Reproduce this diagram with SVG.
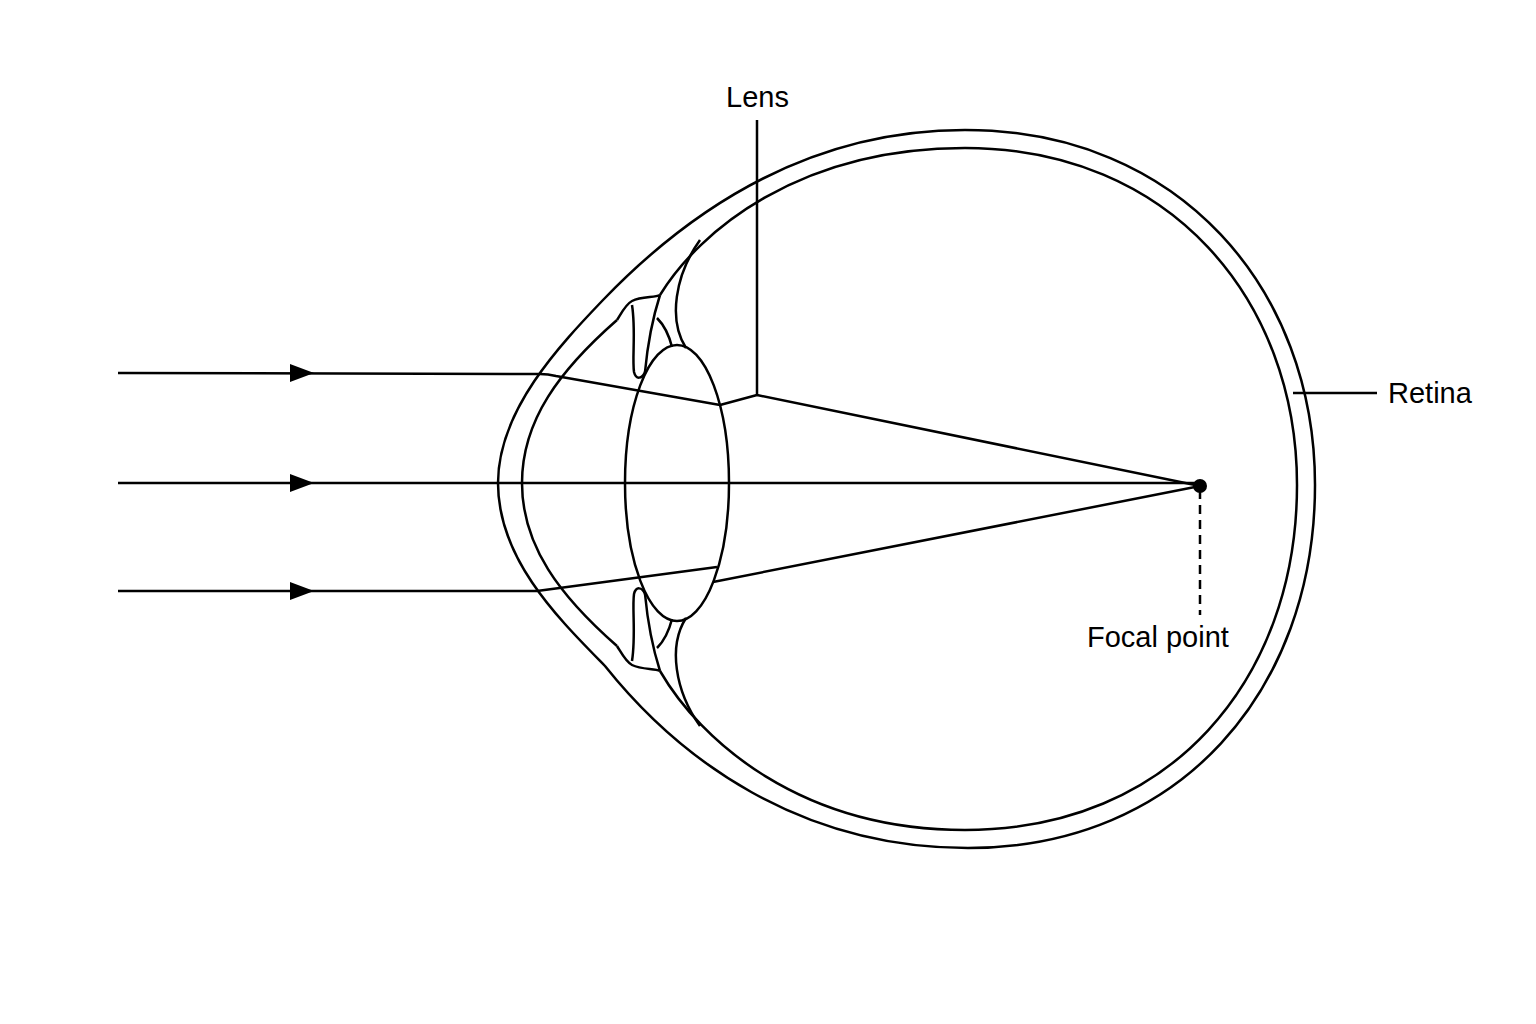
<svg xmlns="http://www.w3.org/2000/svg" width="1536" height="1024" viewBox="0 0 1536 1024">
<style>
.l{fill:none;stroke:#000;stroke-width:2.5;stroke-linejoin:round}
.t{font-family:"Liberation Sans",Arial,sans-serif;font-size:29px;fill:#000}
</style>
<defs>
<g id="half">
<path class="l" d="M 660,295 C 652,320 648,340 645,372"/>
<path class="l" d="M 617,320 C 622,312 626,304 632,301 C 642,296 655,298 660,295"/>
<path class="l" d="M 632,305 C 636,330 632,358 634,372 C 636,380 642,379 645,372"/>
<path class="l" d="M 700,240 C 675,275 668,320 686,348"/>
<path class="l" d="M 657,318 C 664,325 669,335 672,347"/>
</g>
</defs>
<rect width="1536" height="1024" fill="#fff"/>
<g id="eye">
<path class="l" d="M 603,300 C 680,220 800,130 965,130 C 1180,130 1315,290 1315,485 C 1315,690 1180,848 968,848 C 800,848 680,760 605,666 C 560,620 498,560 498,483 C 498,410 560,345 603,300 Z"/>
<path class="l" d="M 660,295 C 700,230 800,148 965,148 C 1170,148 1297,300 1297,485 C 1297,680 1170,830 965,830 C 800,830 700,740 660,671"/>
<path class="l" d="M 617,320 C 560,370 522,420 522,483 C 522,546 560,596 617,646"/>
<use href="#half"/>
<use href="#half" transform="matrix(1 0 0 -1 0 966)"/>
<ellipse class="l" cx="677" cy="483" rx="52" ry="138"/>
</g>
<g id="connectors">
<path class="l" d="M 118,373 L 540,374 C 548,374 552,375 556,376 L 720,405 L 757,395 L 1200,486"/>
<path class="l" d="M 118,483 L 1200,483"/>
<path class="l" d="M 118,591 L 537,591 L 717,567 M 713,582 L 1200,486"/>
<path d="M 290,364 L 314,373 L 290,382 Z M 290,474 L 314,483 L 290,492 Z M 290,582 L 314,591 L 290,600 Z" fill="#000"/>
<path class="l" d="M 757,120 L 757,395"/>
<path class="l" d="M 1293,393 L 1377,393"/>
<path class="l" d="M 1200,490 L 1200,615" stroke-dasharray="9,6"/>
<circle cx="1200" cy="486" r="7" fill="#000"/>
</g>
<g id="labels">
<text class="t" x="726" y="107">Lens</text>
<text class="t" x="1388" y="403">Retina</text>
<text class="t" x="1087" y="647">Focal point</text>
</g>
</svg>
